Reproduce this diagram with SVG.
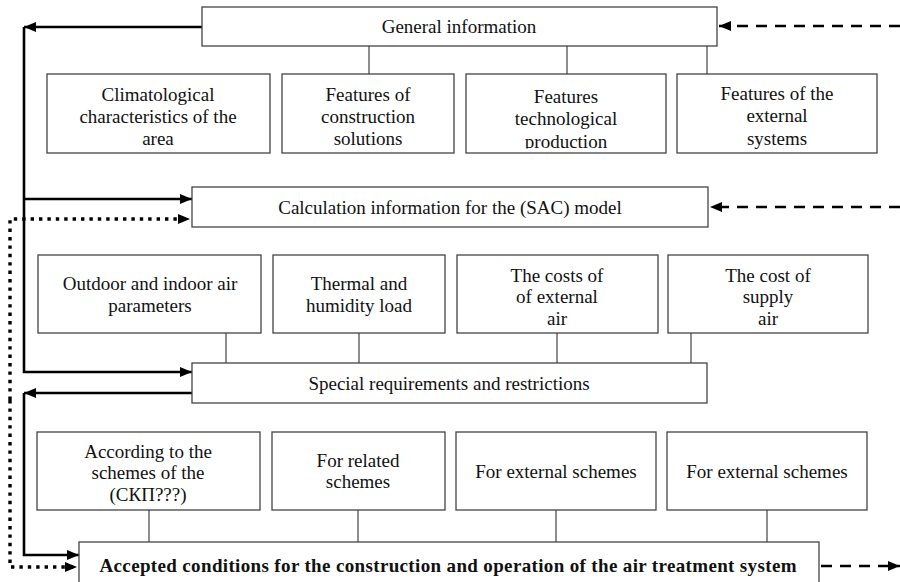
<svg xmlns="http://www.w3.org/2000/svg" width="900" height="582" viewBox="0 0 900 582">
<style>
.box{fill:#fff;stroke:#444;stroke-width:1.3}
.t{font-family:"Liberation Serif","Times New Roman",serif;font-size:19px;fill:#111;text-anchor:middle}
.b{font-weight:bold}
.thin{fill:none;stroke:#444;stroke-width:1.2}
.solid{fill:none;stroke:#000;stroke-width:2.6}
.dash{fill:none;stroke:#000;stroke-width:2.6;stroke-dasharray:11 8}
.dot{fill:none;stroke:#000;stroke-width:3.4;stroke-dasharray:3.4 5}
</style>
<defs>
<marker id="ah" markerUnits="userSpaceOnUse" markerWidth="12" markerHeight="10" refX="12" refY="5" orient="auto"><path d="M0,0 L12,5 L0,10 z" fill="#000"/></marker>
<clipPath id="c3"><rect x="466" y="74" width="200" height="74.5"/></clipPath>
<clipPath id="cE"><rect x="37" y="432" width="223" height="75"/></clipPath>
</defs>

<g id="connectors">
<path class="thin" d="M369,46 V74 M567,46 V74 M707,46 V74"/>
<path class="thin" d="M226,333 V363 M359,333 V363 M557,333 V363 M691,333 V363"/>
<path class="thin" d="M149,510 V542 M358,510 V542 M556,510 V542 M767,510 V542"/>
<path class="solid" d="M202,27 H24" marker-end="url(#ah)"/>
<path class="solid" d="M24,27 V372 H192" marker-end="url(#ah)"/>
<path class="solid" d="M24,199 H192" marker-end="url(#ah)"/>
<path class="solid" d="M192,393 H24" marker-end="url(#ah)"/>
<path class="solid" d="M24,393 V555 H79" marker-end="url(#ah)"/>
<path class="dot" d="M10,400 V219 H190" marker-end="url(#ah)"/>
<path class="dot" d="M10,400 V567 H77" marker-end="url(#ah)"/>
<path class="dash" d="M900,26 H719" marker-end="url(#ah)"/>
<path class="dash" d="M900,207 H710" marker-end="url(#ah)"/>
<path class="dash" d="M821,566 H900" marker-end="url(#ah)"/>
</g>

<g id="general">
<rect class="box" x="202" y="7" width="515" height="39"/>
<text class="t" x="459" y="33">General information</text>
</g>
<g id="climate">
<rect class="box" x="47" y="74" width="223" height="79"/>
<text class="t" x="158" y="101">Climatological</text>
<text class="t" x="158" y="123">characteristics of the</text>
<text class="t" x="158" y="145">area</text>
</g>
<g id="construction">
<rect class="box" x="282" y="74" width="172" height="79"/>
<text class="t" x="368" y="101">Features of</text>
<text class="t" x="368" y="123">construction</text>
<text class="t" x="368" y="145">solutions</text>
</g>
<g id="technological">
<rect class="box" x="466" y="74" width="200" height="79"/>
<g clip-path="url(#c3)">
<text class="t" x="566" y="103">Features</text>
<text class="t" x="566" y="125">technological</text>
<text class="t" x="566" y="148">production</text>
</g>
</g>
<g id="external-systems">
<rect class="box" x="677" y="74" width="200" height="79"/>
<text class="t" x="777" y="100">Features of the</text>
<text class="t" x="777" y="122">external</text>
<text class="t" x="777" y="145">systems</text>
</g>

<g id="calculation">
<rect class="box" x="192" y="187" width="516" height="40"/>
<text class="t" x="450" y="214">Calculation information for the (SAC) model</text>
</g>
<g id="air-params">
<rect class="box" x="38" y="255" width="223" height="78"/>
<text class="t" x="150" y="290">Outdoor and indoor air</text>
<text class="t" x="150" y="312">parameters</text>
</g>
<g id="thermal">
<rect class="box" x="273" y="255" width="172" height="78"/>
<text class="t" x="359" y="290">Thermal and</text>
<text class="t" x="359" y="312">humidity load</text>
</g>
<g id="costs-external">
<rect class="box" x="457" y="255" width="201" height="78"/>
<text class="t" x="557" y="282">The costs of</text>
<text class="t" x="557" y="303">of external</text>
<text class="t" x="557" y="325">air</text>
</g>
<g id="cost-supply">
<rect class="box" x="668" y="255" width="200" height="78"/>
<text class="t" x="768" y="282">The cost of</text>
<text class="t" x="768" y="303">supply</text>
<text class="t" x="768" y="325">air</text>
</g>

<g id="special">
<rect class="box" x="192" y="363" width="515" height="40"/>
<text class="t" x="449" y="390">Special requirements and restrictions</text>
</g>
<g id="skp">
<rect class="box" x="37" y="432" width="223" height="78"/>
<g clip-path="url(#cE)">
<text class="t" x="148" y="458">According to the</text>
<text class="t" x="148" y="479">schemes of the</text>
<text class="t" x="148" y="501">(СКП???)</text>
</g>
</g>
<g id="related">
<rect class="box" x="272" y="432" width="173" height="78"/>
<text class="t" x="358" y="467">For related</text>
<text class="t" x="358" y="488">schemes</text>
</g>
<g id="external-1">
<rect class="box" x="456" y="432" width="200" height="78"/>
<text class="t" x="556" y="478">For external schemes</text>
</g>
<g id="external-2">
<rect class="box" x="667" y="432" width="200" height="78"/>
<text class="t" x="767" y="478">For external schemes</text>
</g>

<g id="accepted">
<rect class="box" x="79" y="542" width="740" height="50"/>
<text class="t b" x="448" y="572" textLength="697" lengthAdjust="spacing">Accepted conditions for the construction and operation of the air treatment system</text>
</g>
</svg>
